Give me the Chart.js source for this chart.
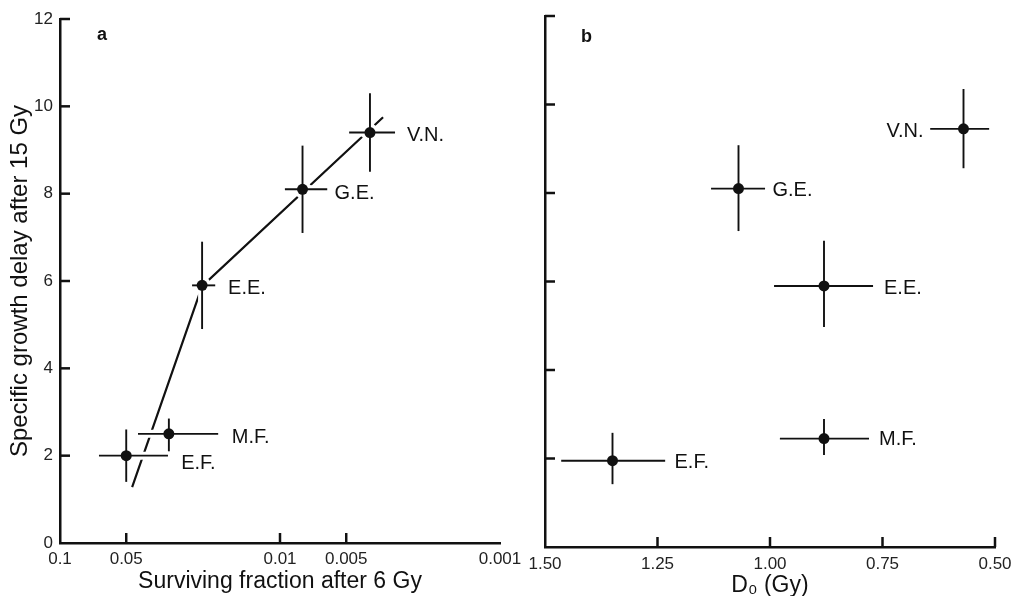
<!DOCTYPE html>
<html>
<head>
<meta charset="utf-8">
<script src="https://cdn.jsdelivr.net/npm/chart.js@4.4.0/dist/chart.umd.min.js"></script>
<style>
html,body{margin:0;padding:0;background:#fff;}
#wrap{position:relative;width:1011px;height:596px;background:#fff;}
#wrap canvas{position:absolute;left:0;top:0;}
</style>
</head>
<body>
<div id="wrap">
<canvas id="chartA" width="1011" height="596"></canvas>
<canvas id="chartB" width="1011" height="596"></canvas>
</div>
<script>
// ---------- data ----------
const lineNames = ['E.F.', 'M.F.', 'E.E.', 'G.E.', 'V.N.'];

// panel a: specific growth delay vs surviving fraction after 6 Gy
const survivingFraction   = [0.050, 0.032, 0.0226, 0.0079, 0.0039];
const survivingFractionHi = [0.0665, 0.0442, 0.0251, 0.0095, 0.00485];
const survivingFractionLo = [0.0323, 0.0191, 0.0197, 0.0061, 0.0030];
const delayA   = [2.0, 2.5, 5.9, 8.1, 9.4];
const delayALo = [1.4, 2.1, 4.9, 7.1, 8.5];
const delayAHi = [2.6, 2.85, 6.9, 9.1, 10.3];
const fitFraction = [0.047, 0.0226, 0.0034];
const fitDelay    = [1.28, 5.88, 9.75];

// panel b: specific growth delay vs D0
const d0   = [1.35, 0.88, 0.88, 1.07, 0.57];
const d0Hi = [1.464, 0.978, 0.991, 1.131, 0.644];
const d0Lo = [1.233, 0.78, 0.771, 1.011, 0.513];
const delayB   = [1.95, 2.45, 5.9, 8.1, 9.45];
const delayBLo = [1.42, 2.08, 4.97, 7.14, 8.56];
const delayBHi = [2.58, 2.89, 6.92, 9.08, 10.35];

// ticks
const fractionTicks = [0.1, 0.05, 0.01, 0.005, 0.001];
const fractionTickLabels = ['0.1', '0.05', '0.01', '0.005', '0.001'];
const fractionTickMarks = [0.05, 0.01, 0.005];
const d0Ticks = [1.5, 1.25, 1.0, 0.75, 0.5];
const d0TickLabels = ['1.50', '1.25', '1.00', '0.75', '0.50'];
const d0TickMarks = [1.25, 1.0, 0.75, 0.5];
const delayTicks = [0, 2, 4, 6, 8, 10, 12];
const delayTickLabels = ['0', '2', '4', '6', '8', '10', '12'];
const delayTickMarks = [2, 4, 6, 8, 10, 12];

// ---------- styling ----------
const FONT = "'Liberation Sans', Arial, Helvetica, sans-serif";
Chart.defaults.font.family = FONT;
const INK = '#111';
const labelOffsetsA = [[55, 8, 'left'], [63, 4, 'left'], [26, 3, 'left'], [32, 4, 'left'], [37, 3, 'left']];
const labelOffsetsB = [[62, 2, 'left'], [55, 1, 'left'], [60, 3, 'left'], [34, 2, 'left'], [-40, 3, 'right']];

function makePlugin(p) {
  return {
    id: 'panel_' + p.letter,
    beforeDatasetDraw(chart, args) {
      if (args.index !== 0) return;
      const xs = chart.scales.x, ys = chart.scales.y, ctx = chart.ctx;
      const segs = [];
      for (let i = 0; i < p.x.length; i++) {
        const cx = xs.getPixelForValue(p.x[i]);
        const cy = ys.getPixelForValue(p.y[i]);
        segs.push([xs.getPixelForValue(p.xLo[i]), cy, xs.getPixelForValue(p.xHi[i]), cy]);
        segs.push([cx, ys.getPixelForValue(p.yLo[i]), cx, ys.getPixelForValue(p.yHi[i])]);
      }
      ctx.save();
      ctx.lineCap = 'butt';
      // white halo (interrupts the fitted line where it crosses the bars)
      ctx.strokeStyle = '#fff';
      ctx.lineWidth = 8;
      segs.forEach(s => { ctx.beginPath(); ctx.moveTo(s[0], s[1]); ctx.lineTo(s[2], s[3]); ctx.stroke(); });
      ctx.fillStyle = '#fff';
      for (let i = 0; i < p.x.length; i++) {
        ctx.beginPath();
        ctx.arc(xs.getPixelForValue(p.x[i]), ys.getPixelForValue(p.y[i]), 9, 0, Math.PI * 2);
        ctx.fill();
      }
      ctx.strokeStyle = INK;
      ctx.lineWidth = 1.9;
      segs.forEach(s => { ctx.beginPath(); ctx.moveTo(s[0], s[1]); ctx.lineTo(s[2], s[3]); ctx.stroke(); });
      ctx.restore();
    },
    afterDraw(chart) {
      const xs = chart.scales.x, ys = chart.scales.y, ctx = chart.ctx;
      const a = chart.chartArea;
      ctx.save();
      ctx.strokeStyle = INK;
      ctx.lineWidth = 2.5;
      p.xMarks.forEach(v => {
        const px = xs.getPixelForValue(v);
        ctx.beginPath(); ctx.moveTo(px, a.bottom); ctx.lineTo(px, a.bottom - 10); ctx.stroke();
      });
      p.yMarks.forEach(v => {
        const py = ys.getPixelForValue(v);
        ctx.beginPath(); ctx.moveTo(a.left, py); ctx.lineTo(a.left + 10, py); ctx.stroke();
      });
      // point labels
      ctx.fillStyle = INK;
      ctx.font = '20px ' + FONT;
      ctx.textBaseline = 'middle';
      for (let i = 0; i < p.x.length; i++) {
        const o = p.offsets[i];
        ctx.textAlign = o[2];
        ctx.fillText(lineNames[i], xs.getPixelForValue(p.x[i]) + o[0], ys.getPixelForValue(p.y[i]) + o[1]);
      }
      // panel letter
      ctx.font = 'bold 18px ' + FONT;
      ctx.textAlign = 'left';
      ctx.textBaseline = 'alphabetic';
      ctx.fillText(p.letter, a.left + p.letterDx, a.top + p.letterDy);
      ctx.restore();
    }
  };
}

function yScale(showLabels, width) {
  return {
    type: 'linear', min: 0, max: 12,
    afterBuildTicks: s => { s.ticks = delayTicks.map(v => ({ value: v })); },
    afterFit: s => { s.width = width; s.paddingTop = 0; s.paddingBottom = 0; },
    grid: { display: false, drawTicks: false },
    border: { display: true, width: 2.5, color: INK },
    ticks: {
      display: showLabels, padding: 7, color: '#222',
      font: { size: 17 },
      callback: v => { const i = delayTicks.indexOf(v); return i >= 0 ? delayTickLabels[i] : ''; }
    },
    title: showLabels ? {
      display: true, text: 'Specific growth delay after 15 Gy', color: INK,
      font: { size: 24 }, padding: { top: 6, bottom: 0 }
    } : { display: false }
  };
}

function xTitle(text, padBottom) {
  return { display: true, text: text, color: INK, font: { size: 23 }, padding: { top: 0, bottom: padBottom } };
}

// ---------- panel a ----------
new Chart(document.getElementById('chartA'), {
  type: 'scatter',
  data: {
    datasets: [
      {
        data: survivingFraction.map((x, i) => ({ x: x, y: delayA[i] })),
        pointRadius: 5.5, pointHoverRadius: 5.5, pointStyle: 'circle',
        backgroundColor: INK, borderColor: INK, borderWidth: 0, order: 1
      },
      {
        type: 'line',
        data: fitFraction.map((x, i) => ({ x: x, y: fitDelay[i] })),
        showLine: true, pointRadius: 0, borderColor: INK, borderWidth: 2.2,
        tension: 0, fill: false, order: 2
      }
    ]
  },
  options: {
    responsive: false, animation: false, devicePixelRatio: 1, events: [],
    layout: { padding: { left: 0, top: 19, right: 511, bottom: 0 } },
    plugins: { legend: { display: false }, tooltip: { enabled: false } },
    scales: {
      x: {
        type: 'logarithmic', min: 0.001, max: 0.1, reverse: true,
        afterBuildTicks: s => { s.ticks = fractionTicks.map(v => ({ value: v })); },
        afterFit: s => { s.height = 53; s.paddingLeft = 0; s.paddingRight = 0; },
        grid: { display: false, drawTicks: false },
        border: { display: true, width: 2.5, color: INK },
        ticks: {
          padding: 6, color: '#222', font: { size: 17 }, maxRotation: 0, autoSkip: false,
          callback: v => { const i = fractionTicks.indexOf(v); return i >= 0 ? fractionTickLabels[i] : ''; }
        },
        title: xTitle('Surviving fraction after 6 Gy', 1)
      },
      y: yScale(true, 60)
    }
  },
  plugins: [makePlugin({
    letter: 'a', letterDx: 37, letterDy: 21,
    x: survivingFraction, xLo: survivingFractionLo, xHi: survivingFractionHi,
    y: delayA, yLo: delayALo, yHi: delayAHi,
    xMarks: fractionTickMarks, yMarks: delayTickMarks, offsets: labelOffsetsA
  })]
});

// ---------- panel b ----------
new Chart(document.getElementById('chartB'), {
  type: 'scatter',
  data: {
    datasets: [
      {
        data: d0.map((x, i) => ({ x: x, y: delayB[i] })),
        pointRadius: 5.5, pointHoverRadius: 5.5, pointStyle: 'circle',
        backgroundColor: INK, borderColor: INK, borderWidth: 0
      }
    ]
  },
  options: {
    responsive: false, animation: false, devicePixelRatio: 1, events: [],
    layout: { padding: { left: 505, top: 16, right: 16, bottom: 0 } },
    plugins: { legend: { display: false }, tooltip: { enabled: false } },
    scales: {
      x: {
        type: 'linear', min: 0.5, max: 1.5, reverse: true,
        afterBuildTicks: s => { s.ticks = d0Ticks.map(v => ({ value: v })); },
        afterFit: s => { s.height = 49; s.paddingLeft = 0; s.paddingRight = 0; },
        grid: { display: false, drawTicks: false },
        border: { display: true, width: 2.5, color: INK },
        ticks: {
          padding: 7, color: '#222', font: { size: 17 }, maxRotation: 0, autoSkip: false,
          callback: v => { const i = d0Ticks.indexOf(v); return i >= 0 ? d0TickLabels[i] : ''; }
        },
        title: xTitle('D₀ (Gy)', -3)
      },
      y: yScale(false, 40)
    }
  },
  plugins: [makePlugin({
    letter: 'b', letterDx: 36, letterDy: 26,
    x: d0, xLo: d0Lo, xHi: d0Hi,
    y: delayB, yLo: delayBLo, yHi: delayBHi,
    xMarks: d0TickMarks, yMarks: delayTickMarks, offsets: labelOffsetsB
  })]
});
</script>
</body>
</html>
